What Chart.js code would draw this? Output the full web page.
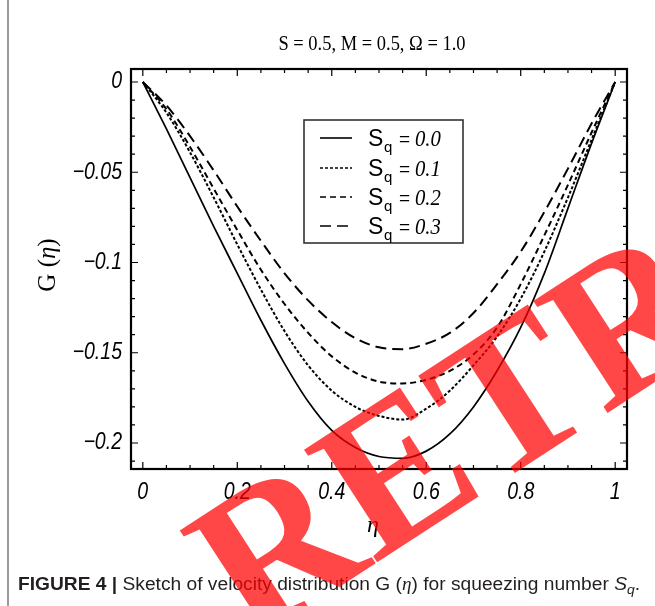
<!DOCTYPE html>
<html><head><meta charset="utf-8">
<script src="https://cdn.jsdelivr.net/npm/chart.js@4.4.0/dist/chart.umd.min.js"></script>
<style>html,body{margin:0;padding:0;background:#fff;}canvas{display:block;}</style>
</head><body>
<canvas id="c" width="655" height="606"></canvas>
<script>
// ---- data ----
const eta = [0,0.05,0.1,0.15,0.2,0.25,0.3,0.35,0.4,0.45,0.5,0.55,0.6,0.65,0.7,0.75,0.8,0.85,0.9,0.95,1];
const gSq00 = [0,-0.026,-0.053,-0.080,-0.106,-0.132,-0.156,-0.177,-0.193,-0.2025,-0.2075,-0.2085,-0.2045,-0.195,-0.180,-0.160,-0.136,-0.106,-0.070,-0.034,0];
const gSq01 = [0,-0.017,-0.039,-0.064,-0.090,-0.115,-0.138,-0.157,-0.171,-0.180,-0.185,-0.187,-0.181,-0.171,-0.157,-0.141,-0.120,-0.094,-0.064,-0.032,0];
const gSq02 = [0,-0.015,-0.036,-0.059,-0.082,-0.104,-0.123,-0.139,-0.152,-0.161,-0.166,-0.167,-0.165,-0.160,-0.151,-0.136,-0.112,-0.085,-0.057,-0.028,0];
const gSq03 = [0,-0.013,-0.030,-0.049,-0.069,-0.088,-0.106,-0.121,-0.133,-0.142,-0.147,-0.148,-0.145,-0.139,-0.128,-0.112,-0.094,-0.072,-0.048,-0.023,0];
const sqValues = ['0.0','0.1','0.2','0.3'];
const xTicks = [0,0.2,0.4,0.6,0.8,1];
const xTickLabels = ['0','0.2','0.4','0.6','0.8','1'];
const yTicks = [0,-0.05,-0.1,-0.15,-0.2];
const yTickLabels = ['0','\u22120.05','\u22120.1','\u22120.15','\u22120.2'];
const plotTitle = 'S = 0.5, M = 0.5, \u03A9 = 1.0';
const xTitle = '\u03B7';
const yTitleMain = 'G (';
const yTitleVar = '\u03B7';
const watermark = 'RETRACTED';

const seriesList = [gSq00, gSq01, gSq02, gSq03];
const dashes = [[], [3,2], [6,4], [11,6]];

function txt(ctx, s, x, y, font, align, sx, base){
  ctx.save(); ctx.font = font; ctx.translate(x, y); ctx.scale(sx, 1);
  ctx.textAlign = align; ctx.textBaseline = base || 'alphabetic';
  ctx.fillText(s, 0, 0); ctx.restore();
}

const deco = {
  id: 'deco',
  afterDraw(chart){
    const ctx = chart.ctx, a = chart.chartArea, xs = chart.scales.x, ys = chart.scales.y;
    ctx.save();
    // outer figure edge
    ctx.strokeStyle = '#9a9a9a'; ctx.lineWidth = 2;
    ctx.beginPath(); ctx.moveTo(8, 0); ctx.lineTo(8, 606); ctx.stroke();
    // frame
    ctx.strokeStyle = '#000'; ctx.lineWidth = 2.2;
    ctx.strokeRect(a.left, a.top, a.right - a.left, a.bottom - a.top);
    // ticks on all sides
    ctx.lineWidth = 1.2; ctx.beginPath();
    for (let i = 0; i <= 20; i++) {
      const px = xs.getPixelForValue(i * 0.05); const L = (i % 4 === 0) ? 7 : 4;
      ctx.moveTo(px, a.bottom); ctx.lineTo(px, a.bottom - L);
      ctx.moveTo(px, a.top); ctx.lineTo(px, a.top + L);
    }
    for (let i = 0; i <= 21; i++) {
      const py = ys.getPixelForValue(-i * 0.01); const L = (i % 5 === 0) ? 7 : 4;
      ctx.moveTo(a.left, py); ctx.lineTo(a.left + L, py);
      ctx.moveTo(a.right, py); ctx.lineTo(a.right - L, py);
    }
    ctx.stroke();
    ctx.fillStyle = '#000';
    // tick labels
    xTicks.forEach((v, i) => txt(ctx, xTickLabels[i], xs.getPixelForValue(v), 493, 'italic 23px "Liberation Sans"', 'center', 0.85, 'middle'));
    yTicks.forEach((v, i) => txt(ctx, yTickLabels[i], 122, ys.getPixelForValue(v), 'italic 23px "Liberation Sans"', 'right', 0.85, 'middle'));
    // plot title
    txt(ctx, plotTitle, 372, 50, '22px "Liberation Serif"', 'center', 0.84);
    // x title
    txt(ctx, xTitle, 373, 532, 'italic 24px "Liberation Serif"', 'center', 1);
    // y title (rotated)
    ctx.save(); ctx.translate(55, 265); ctx.rotate(-Math.PI / 2);
    ctx.font = '25px "Liberation Serif"';
    const w1 = ctx.measureText(yTitleMain).width;
    ctx.font = 'italic 25px "Liberation Serif"';
    const w2 = ctx.measureText(yTitleVar).width;
    ctx.font = '25px "Liberation Serif"';
    const w3 = ctx.measureText(')').width;
    let x0 = -(w1 + w2 + w3) / 2;
    ctx.textAlign = 'left';
    ctx.fillText(yTitleMain, x0, 0);
    ctx.font = 'italic 25px "Liberation Serif"'; ctx.fillText(yTitleVar, x0 + w1, 0);
    ctx.font = '25px "Liberation Serif"'; ctx.fillText(')', x0 + w1 + w2, 0);
    ctx.restore();
    // legend
    ctx.strokeStyle = '#333'; ctx.lineWidth = 1.6;
    ctx.strokeRect(304, 120, 159, 123);
    const rowBase = [146, 176, 205, 234];
    chart.data.datasets.forEach((ds, i) => {
      const yb = rowBase[i];
      ctx.save(); ctx.strokeStyle = '#000'; ctx.lineWidth = 1.6; ctx.setLineDash(ds.borderDash || []);
      ctx.beginPath(); ctx.moveTo(320, yb - 8); ctx.lineTo(352, yb - 8); ctx.stroke(); ctx.restore();
      ctx.fillStyle = '#000'; ctx.textAlign = 'left'; ctx.textBaseline = 'alphabetic';
      ctx.font = '23px "Liberation Sans"'; ctx.fillText('S', 368, yb);
      ctx.font = '15px "Liberation Sans"'; ctx.fillText('q', 384, yb + 6);
      ctx.font = '19px "Liberation Sans"'; ctx.fillText('=', 399, yb - 1);
      txt(ctx, sqValues[i], 415, yb, 'italic 23px "Liberation Serif"', 'left', 0.9);
    });
    // caption
    ctx.fillStyle = '#231f20'; ctx.textBaseline = 'alphabetic';
    const segs = [
      ['bold 18px "Liberation Sans"', 'FIGURE 4 | ', 0],
      ['18px "Liberation Sans"', 'Sketch of velocity distribution G (', 0],
      ['italic 18px "Liberation Serif"', '\u03B7', 0],
      ['18px "Liberation Sans"', ') for squeezing number ', 0],
      ['italic 18px "Liberation Sans"', 'S', 0],
      ['italic 13px "Liberation Sans"', 'q', 4],
      ['18px "Liberation Sans"', '.', 0]
    ];
    let tot = 0; segs.forEach(s => { ctx.font = s[0]; tot += ctx.measureText(s[1]).width; });
    const sc = (640 - 18) / tot;
    ctx.save(); ctx.translate(18, 590); ctx.scale(sc, 1);
    let cx = 0; segs.forEach(s => { ctx.font = s[0]; ctx.fillText(s[1], cx, s[2]); cx += ctx.measureText(s[1]).width; });
    ctx.restore();
    // watermark overlay
    ctx.save(); ctx.translate(250, 645); ctx.rotate(-33 * Math.PI / 180);
    ctx.font = 'bold 205px "Liberation Serif"'; ctx.fillStyle = 'rgba(255,0,0,0.72)';
    ctx.textAlign = 'left'; ctx.fillText(watermark, 0, 0);
    ctx.restore();
    ctx.restore();
  }
};

new Chart(document.getElementById('c'), {
  type: 'line',
  data: {
    datasets: seriesList.map((arr, i) => ({
      label: 'Sq = ' + sqValues[i],
      data: eta.map((x, j) => ({x: x, y: arr[j]})),
      borderColor: '#000', borderWidth: i === 0 ? 1.7 : 2,
      borderDash: dashes[i], pointRadius: 0, fill: false,
      cubicInterpolationMode: 'monotone'
    }))
  },
  options: {
    responsive: false, animation: false, devicePixelRatio: 1,
    layout: { padding: { left: 131, top: 69, right: 28, bottom: 137 } },
    scales: {
      x: { type: 'linear', min: -0.025, max: 1.025, display: false },
      y: { type: 'linear', min: -0.2144, max: 0.0072, display: false }
    },
    plugins: { legend: { display: false }, tooltip: { enabled: false }, title: { display: false } }
  },
  plugins: [deco]
});
</script>
</body></html>
